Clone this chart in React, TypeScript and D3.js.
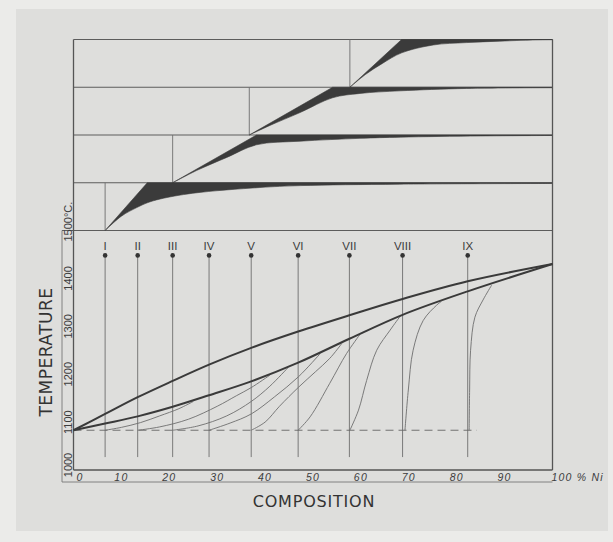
import * as d3 from "d3";

const W = 613;
const H = 542;

// alloys marked on the diagram (% Ni)
const alloyNames = ["I", "II", "III", "IV", "V", "VI", "VII", "VIII", "IX"];
const alloyNi = [6.6, 13.4, 20.7, 28.3, 37.1, 46.9, 57.6, 68.7, 82.3];

const niTicks = [0, 10, 20, 30, 40, 50, 60, 70, 80, 90, 100];
const tempTicks = [1000, 1100, 1200, 1300, 1400, 1500];

// [% Ni, °C]
const liquidus: [number, number][] = [
  [0, 1083], [6.6, 1117], [13.4, 1152], [20.7, 1186], [28.3, 1220], [37.1, 1255],
  [46.9, 1289], [57.6, 1323], [68.7, 1357], [82.3, 1394], [100, 1430],
];
const solidus: [number, number][] = [
  [0, 1083], [6.6, 1097], [13.4, 1112], [20.7, 1132], [28.3, 1156], [37.1, 1185],
  [46.9, 1224], [57.6, 1274], [68.7, 1324], [82.3, 1373], [100, 1430],
];

// thin solidification curves, one per alloy
const coringI: [number, number][] = [[6.6, 1083], [10, 1089], [14, 1099], [18, 1113], [22, 1128], [25, 1143]];
const coringII: [number, number][] = [[13.4, 1083], [18, 1090], [24, 1106], [30, 1133], [34, 1155], [37.1, 1172], [41, 1198]];
const coringIII: [number, number][] = [[20.7, 1083], [26, 1092], [32, 1113], [37.1, 1143], [41, 1175], [44.8, 1214]];
const coringIV: [number, number][] = [[28.3, 1083], [32.7, 1098], [37.1, 1117], [42, 1153], [47, 1195], [51.5, 1243]];
const coringV: [number, number][] = [[37.1, 1083], [40, 1100], [43, 1133], [47, 1173], [50.5, 1205], [53.5, 1233], [56, 1264]];
const coringVI: [number, number][] = [[46.9, 1083], [49.4, 1111], [53.5, 1181], [57, 1243], [59.8, 1283]];
const coringVII: [number, number][] = [[57.7, 1083], [59.5, 1125], [61.2, 1187], [63.3, 1250], [66.1, 1292], [68.2, 1321]];
const coringVIII: [number, number][] = [[69.2, 1083], [69.9, 1167], [70.9, 1250], [73, 1312], [75.8, 1344], [76.8, 1352]];
const coringIX: [number, number][] = [[82.6, 1083], [82.7, 1167], [82.9, 1250], [83.8, 1319], [85.5, 1355], [87.3, 1386]];
const coring = [coringI, coringII, coringIII, coringIV, coringV, coringVI, coringVII, coringVIII, coringIX];

const copperMelt = 1083;
const dashEndNi = 84.2;
const alloyLineTop = 1448;
const alloyLineBottom = 1027;

// upper panel: four bands, each with a dark wedge
const wedgeStartNi = [6.6, 20.7, 36.7, 57.7];
const wedgeTopNi = [15.4, 38.2, 54.1, 68.5];
// lower edge of each wedge: [% Ni, fraction of band height]
const wedge1: [number, number][] = [[10, 0.3], [13.2, 0.48], [15.4, 0.58], [18.1, 0.66], [24.9, 0.78], [38.9, 0.9], [47.3, 0.94], [68, 0.97], [100, 0.985]];
const wedge2: [number, number][] = [[26, 0.27], [32, 0.53], [38.2, 0.795], [47.3, 0.87], [59.8, 0.93], [68.2, 0.955], [85, 0.98], [100, 0.99]];
const wedge3: [number, number][] = [[41, 0.2], [47.3, 0.47], [54.1, 0.78], [59.8, 0.87], [68.2, 0.925], [82, 0.975], [100, 0.99]];
const wedge4: [number, number][] = [[61, 0.27], [64.5, 0.5], [68.5, 0.72], [75.1, 0.885], [82, 0.935], [89, 0.965], [95.9, 0.99], [100, 0.995]];
const wedgeLower = [wedge1, wedge2, wedge3, wedge4];

const ink = "#3a3a3a";
const thin = "#6e6e6e";
const labelFont = "'Liberation Sans', Arial, sans-serif";
const titleFont = "'DejaVu Sans', 'Liberation Sans', sans-serif";

export default function App() {
  const x = d3.scaleLinear().domain([0, 100]).range([73.5, 552.5]);
  const y = d3.scaleLinear().domain([1000, 1500]).range([470, 230.5]);
  const band = d3.scaleLinear().domain([0, 4]).range([y(1500), 39.5]);

  const tLine = d3
    .line<[number, number]>()
    .x((d) => x(d[0]))
    .y((d) => y(d[1]))
    .curve(d3.curveCatmullRom.alpha(0.5));

  const stripX = 62;
  const stripY = y(1000) + 12;

  const wedgePath = (k: number) => {
    const lower = d3
      .line<[number, number]>()
      .x((d) => x(d[0]))
      .y((d) => band(k + d[1]))
      .curve(d3.curveCatmullRom.alpha(0.5))([[wedgeStartNi[k], 0], ...wedgeLower[k]]);
    return `${lower}L${x(100)},${band(k + 1)}L${x(wedgeTopNi[k])},${band(k + 1)}Z`;
  };

  return (
    <svg
      width={W}
      height={H}
      style={{ position: "absolute", left: 0, top: 0, display: "block" }}
    >
      <rect x={0} y={0} width={W} height={H} fill="#ebebe9" />
      <rect x={16} y={9} width={592} height={522} fill="#dededc" />

      {/* upper panel */}
      {d3.range(5).map((k) => (
        <line
          key={"b" + k}
          x1={k === 0 ? stripX : x(0)}
          x2={x(100)}
          y1={band(k)}
          y2={band(k)}
          stroke="#5c5c5c"
          strokeWidth={1.1}
        />
      ))}
      {wedgeStartNi.map((v, k) => (
        <line
          key={"bv" + k}
          x1={x(v)}
          x2={x(v)}
          y1={band(k)}
          y2={band(k + 1)}
          stroke={thin}
          strokeWidth={0.9}
        />
      ))}
      {wedgeStartNi.map((_, k) => (
        <path key={"w" + k} d={wedgePath(k)} fill="#3b3b3b" stroke="#3b3b3b" strokeWidth={0.6} strokeLinejoin="round" />
      ))}

      {/* frame */}
      <line x1={x(0)} x2={x(0)} y1={band(4)} y2={y(1000)} stroke="#555" strokeWidth={1.3} />
      <line x1={x(100)} x2={x(100)} y1={band(4)} y2={y(1000)} stroke="#555" strokeWidth={1.3} />
      <line x1={x(0)} x2={x(100)} y1={y(1000)} y2={y(1000)} stroke="#555" strokeWidth={1.3} />
      <line x1={stripX} x2={stripX} y1={y(1500)} y2={stripY} stroke="#777" strokeWidth={0.9} />
      <line x1={stripX} x2={x(100)} y1={stripY} y2={stripY} stroke="#777" strokeWidth={0.9} />

      {/* alloy verticals */}
      {alloyNi.map((v, i) => (
        <g key={"a" + i}>
          <line
            x1={x(v)}
            x2={x(v)}
            y1={y(alloyLineTop)}
            y2={y(alloyLineBottom)}
            stroke={thin}
            strokeWidth={0.9}
          />
          <circle cx={x(v)} cy={y(alloyLineTop)} r={2.3} fill="#333" />
          <text
            x={x(v)}
            y={y(alloyLineTop) - 5}
            textAnchor="middle"
            fontFamily={labelFont}
            fontSize={11.5}
            fill="#3c3c3c"
          >
            {alloyNames[i]}
          </text>
        </g>
      ))}

      {/* copper melting point, dashed */}
      <line
        x1={x(0)}
        x2={x(dashEndNi)}
        y1={y(copperMelt)}
        y2={y(copperMelt)}
        stroke="#666"
        strokeWidth={0.9}
        strokeDasharray="8,5"
      />

      {coring.map((c, i) => (
        <path key={"c" + i} d={tLine(c) || ""} fill="none" stroke={thin} strokeWidth={0.9} />
      ))}
      <path d={tLine(liquidus) || ""} fill="none" stroke={ink} strokeWidth={2} />
      <path d={tLine(solidus) || ""} fill="none" stroke={ink} strokeWidth={2} />

      {/* temperature labels */}
      {tempTicks.map((t) =>
        t === 1500 ? (
          <text
            key={t}
            transform={`translate(72,${y(t) + 11}) rotate(-90)`}
            fontFamily={labelFont}
            fontSize={11}
            fill="#3c3c3c"
          >
            1500°C.
          </text>
        ) : (
          <text
            key={t}
            transform={`translate(72,${t === 1000 ? y(t) - 5 : y(t)}) rotate(-90)`}
            textAnchor="middle"
            fontFamily={labelFont}
            fontSize={11}
            fill="#3c3c3c"
          >
            {t}
          </text>
        )
      )}

      {/* composition labels */}
      {niTicks.map((n) => (
        <text
          key={n}
          x={n === 0 ? x(0) + 3 : n === 100 ? x(100) - 1 : x(n)}
          y={stripY - 1}
          textAnchor={n === 0 || n === 100 ? "start" : "middle"}
          fontFamily={labelFont}
          fontStyle="italic"
          fontSize={10.5}
          letterSpacing={1.2}
          fill="#3c3c3c"
        >
          {n === 100 ? "100 % Ni" : n}
        </text>
      ))}

      <text
        transform={`translate(51.5,352) rotate(-90)`}
        textAnchor="middle"
        fontFamily={titleFont}
        fontSize={17}
        letterSpacing={0.5}
        fill="#333"
      >
        TEMPERATURE
      </text>
      <text
        x={314}
        y={507}
        textAnchor="middle"
        fontFamily={titleFont}
        fontSize={16}
        letterSpacing={0.8}
        fill="#333"
      >
        COMPOSITION
      </text>
    </svg>
  );
}
